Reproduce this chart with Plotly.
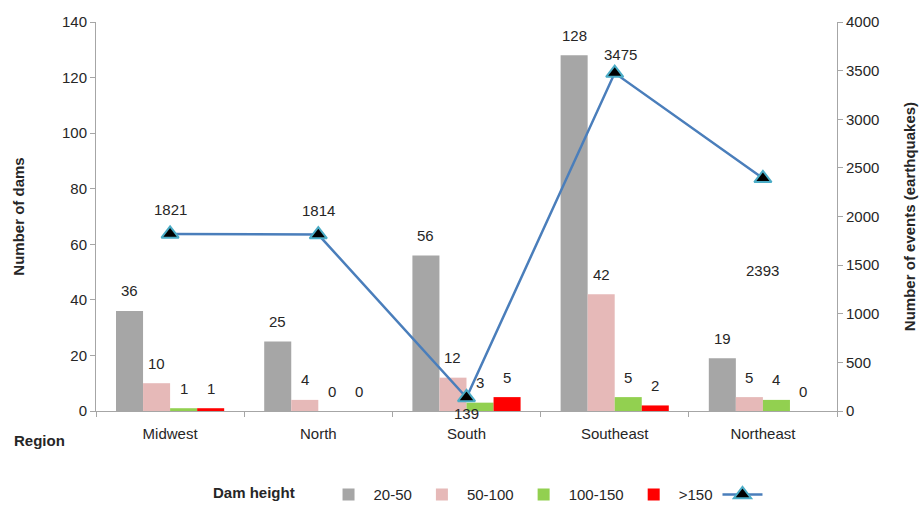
import plotly.graph_objects as go

regions = ["Midwest", "North", "South", "Southeast", "Northeast"]
h_20_50 = [36, 25, 56, 128, 19]
h_50_100 = [10, 4, 12, 42, 5]
h_100_150 = [1, 0, 3, 5, 4]
h_150_plus = [1, 0, 5, 2, 0]
earthquakes = [1821, 1814, 139, 3475, 2393]

series_names = ["20-50", "50-100", "100-150", ">150"]
series_values = [h_20_50, h_50_100, h_100_150, h_150_plus]
series_colors = ["#A6A6A6", "#E6B9B8", "#92D050", "#FF0000"]

FONT = "Liberation Sans Narrow, Liberation Sans, Arial, sans-serif"
TXT = "#262626"

W, H = 921, 510
L, R, T, B = 96, 84, 22, 99
BARGAP = 0.27

fig = go.Figure()
for name, vals, col in zip(series_names, series_values, series_colors):
    fig.add_trace(go.Bar(x=regions, y=vals, name=name,
                         marker_color=col, marker_line_width=0))

fig.add_trace(go.Scatter(
    x=regions, y=earthquakes, yaxis="y2", name="", mode="lines+markers",
    line=dict(color="#4A7EBB", width=2.5),
    marker=dict(symbol="triangle-up", size=15, color="black",
                line=dict(color="#4BACC6", width=2)),
    cliponaxis=False,
))

# value labels above each bar, shifted to its slot within the group
cat_px = (W - L - R) / len(regions)
bar_px = cat_px * (1 - BARGAP) / len(series_names)
for k, vals in enumerate(series_values):
    dx = (k - (len(series_names) - 1) / 2) * bar_px
    for reg, v in zip(regions, vals):
        fig.add_annotation(x=reg, y=v, text=str(v), showarrow=False,
                           xshift=dx, yshift=20, xref="x", yref="y",
                           font=dict(size=15, color=TXT, family=FONT))

# earthquake counts beside the line markers
line_shift = [24, 24, -16, 19, -92]
line_dx = [0, 0, 0, 6, 0]
for reg, v, dy, dx in zip(regions, earthquakes, line_shift, line_dx):
    fig.add_annotation(x=reg, y=v, text=str(v), showarrow=False, xref="x", yref="y2",
                       yshift=dy, xshift=dx,
                       font=dict(size=15, color=TXT, family=FONT))

axis_common = dict(showgrid=False, showline=True, linecolor="#A6A6A6", linewidth=1,
                   ticks="outside", tickcolor="#A6A6A6", ticklen=5,
                   tickfont=dict(size=15, color=TXT, family=FONT), zeroline=False)

fig.update_layout(
    width=W, height=H,
    margin=dict(l=L, r=R, t=T, b=B, autoexpand=False),
    paper_bgcolor="white", plot_bgcolor="white",
    barmode="group", bargap=BARGAP, bargroupgap=0,
    font=dict(family=FONT, size=15, color=TXT),
    xaxis=dict(**axis_common, tickson="boundaries", ticklabelstandoff=9),
    yaxis=dict(**axis_common, range=[0, 140], dtick=20,
               title=dict(text="<b>Number of dams</b>", font=dict(size=15, family=FONT), standoff=33)),
    yaxis2=dict(**axis_common, range=[0, 4000], dtick=500, overlaying="y", side="right",
                title=dict(text="<b>Number of events (earthquakes)</b>", font=dict(size=15, family=FONT), standoff=26)),
    legend=dict(orientation="h", x=211 / W, xanchor="left", xref="container",
                y=0.03, yanchor="middle", yref="container",
                title=dict(text="<b>Dam height</b>     ", side="left", font=dict(size=15, family=FONT)),
                font=dict(size=15, family=FONT), itemwidth=40, traceorder="normal"),
    showlegend=True,
)

fig.add_annotation(text="<b>Region</b>", xref="paper", yref="paper",
                   x=-(L - 12) / (W - L - R), y=-29 / (H - T - B),
                   xanchor="left", yanchor="middle", showarrow=False,
                   font=dict(size=15, family=FONT, color=TXT))

fig.write_html("out.html")
